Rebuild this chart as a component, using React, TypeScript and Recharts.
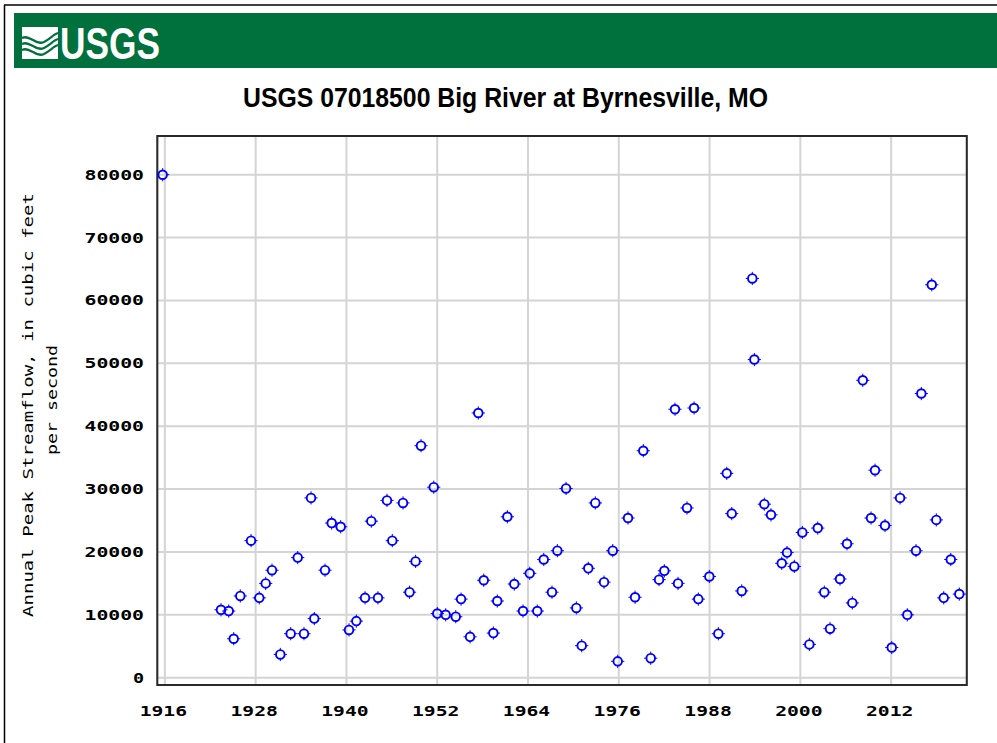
import React from 'react';
import { ScatterChart, Scatter, XAxis, YAxis, CartesianGrid, ReferenceArea } from 'recharts';

const peakYears = [
  1915.71, 1923.42, 1924.44, 1925.10, 1925.97, 1927.39, 1928.48, 1929.33, 1930.16, 1931.26,
  1932.63, 1933.56, 1934.39, 1935.32, 1935.75, 1937.17, 1938.05, 1939.24, 1940.34, 1941.31,
  1942.46, 1943.29, 1944.17, 1945.36, 1946.06, 1947.48, 1948.34, 1949.14, 1949.86, 1951.54,
  1952.01, 1953.12, 1954.45, 1955.15, 1956.34, 1957.43, 1958.15, 1959.42, 1959.94, 1961.27,
  1962.19, 1963.34, 1964.23, 1965.23, 1966.08, 1967.17, 1967.88, 1969.03, 1970.39, 1971.10,
  1971.97, 1972.90, 1974.05, 1975.20, 1975.86, 1977.22, 1978.15, 1979.24, 1980.22, 1981.32,
  1982.02, 1983.43, 1983.83, 1985.02, 1985.95, 1986.51, 1987.97, 1989.16, 1990.27, 1990.93,
  1992.25, 1993.65, 1993.92, 1995.24, 1996.12, 1997.54, 1998.24, 1999.20, 2000.26, 2001.19,
  2002.30, 2003.17, 2003.92, 2005.24, 2006.17, 2006.87, 2008.25, 2009.34, 2009.87, 2011.19,
  2012.08, 2013.18, 2014.14, 2015.29, 2015.99, 2017.37, 2017.97, 2018.95, 2019.88, 2021.01,
];

const peakFlows = [
  80000, 10800, 10600, 6200, 13000, 21800, 12700, 15000, 17100, 3700,
  7000, 19100, 7000, 28600, 9400, 17100, 24600, 24000, 7600, 9000,
  12700, 24900, 12700, 28200, 21800, 27800, 13600, 18500, 36900, 30300,
  10200, 10000, 9700, 12500, 6500, 42100, 15500, 7100, 12200, 25600,
  14900, 10600, 16600, 10600, 18800, 13600, 20200, 30100, 11100, 5100,
  17400, 27800, 15200, 20200, 2600, 25400, 12800, 36100, 3100, 15600,
  17000, 42700, 15000, 27000, 42900, 12500, 16100, 7000, 32500, 26100,
  13800, 63500, 50600, 27600, 25900, 18200, 19900, 17700, 23100, 5300,
  23800, 13600, 7800, 15700, 21300, 11900, 47300, 25400, 33000, 24200,
  4800, 28600, 10000, 20200, 45200, 62500, 25100, 12700, 18800, 13300,
];

const xTicks = [1916, 1928, 1940, 1952, 1964, 1976, 1988, 2000, 2012];
const yTicks = [0, 10000, 20000, 30000, 40000, 50000, 60000, 70000, 80000];
const xDomain = [1915, 2022];
const yDomain = [-1160, 86160];

const titleText = 'USGS 07018500 Big River at Byrnesville, MO';
const yLabel1 = 'Annual Peak Streamflow, in cubic feet';
const yLabel2 = 'per second';

const data = peakYears.map((x, i) => ({ x, y: peakFlows[i] }));

const MONO = '"DejaVu Sans Mono", "Liberation Mono", monospace';
const NARROW = '"Liberation Sans Narrow", "Liberation Sans", Arial, sans-serif';
const CHAR_W = 12.1;

const XTick = (props: any) => {
  const { x, payload } = props;
  const s = String(payload.value);
  return (
    <text x={x - 1.5} y={716} textAnchor="middle" fontFamily={MONO} fontWeight="bold" fontSize={14} fill="#000"
      textLength={s.length * CHAR_W - 1} lengthAdjust="spacingAndGlyphs">
      {s}
    </text>
  );
};

const YTick = (props: any) => {
  const { y, payload } = props;
  const s = String(payload.value);
  return (
    <text x={144} y={y + 5} textAnchor="end" fontFamily={MONO} fontWeight="bold" fontSize={14} fill="#000"
      textLength={s.length * CHAR_W - 1} lengthAdjust="spacingAndGlyphs">
      {s}
    </text>
  );
};

const Marker = (props: any) => {
  const { cx, cy } = props;
  if (cx == null || cy == null) return null;
  const r = 4.3;
  const t = 6.6;
  return (
    <g>
      <circle cx={cx} cy={cy} r={r} fill="none" stroke="#0000ff" strokeWidth={1.9} />
      <path
        d={`M${cx - t},${cy}L${cx - r},${cy}M${cx + r},${cy}L${cx + t},${cy}M${cx},${cy - t}L${cx},${cy - r}M${cx},${cy + r}L${cx},${cy + t}`}
        stroke="#0000ff"
        strokeWidth={1}
      />
    </g>
  );
};

export default function App() {
  return (
    <div style={{ position: 'absolute', left: 0, top: 0, width: 997, height: 743, background: '#fff', overflow: 'hidden' }}>
      <ScatterChart width={997} height={743} margin={{ top: 136, right: 30.2, bottom: 28, left: 0 }}>
        <CartesianGrid stroke="#d4d4d4" strokeWidth={2} />
        <XAxis
          type="number"
          dataKey="x"
          domain={xDomain}
          ticks={xTicks}
          allowDataOverflow
          axisLine={false}
          tickLine={false}
          tick={<XTick />}
          height={30}
          interval={0}
        />
        <YAxis
          type="number"
          dataKey="y"
          domain={yDomain}
          ticks={yTicks}
          allowDataOverflow
          axisLine={false}
          tickLine={false}
          tick={<YTick />}
          width={157.3}
          interval={0}
        />
        <ReferenceArea
          x1={xDomain[0]}
          x2={xDomain[1]}
          y1={yDomain[0]}
          y2={yDomain[1]}
          fill="none"
          fillOpacity={0}
          stroke="#2a2a2a"
          strokeWidth={2}
          ifOverflow="visible"
        />
        <Scatter data={data} shape={<Marker />} isAnimationActive={false} />
      </ScatterChart>
      <svg width={997} height={743} style={{ position: 'absolute', left: 0, top: 0, pointerEvents: 'none' }}>
        <line x1={4} y1={5} x2={997} y2={5} stroke="#000" strokeWidth={1.5} />
        <line x1={4.5} y1={5} x2={4.5} y2={743} stroke="#000" strokeWidth={1.5} />
        <rect x={14} y={13} width={983} height={55} fill="#00703C" />
        <rect x={22} y={27} width={36} height={32} fill="#fff" />
        <path d="M22,38 C30,34 36,46 44,42 C50,39 54,34 58,33" stroke="#00703C" strokeWidth={2.2} fill="none" />
        <path d="M22,44 C30,40 36,52 44,48 C50,45 54,40 58,39" stroke="#00703C" strokeWidth={2.2} fill="none" />
        <path d="M22,50 C30,46 36,58 44,54 C50,51 54,46 58,45" stroke="#00703C" strokeWidth={2.2} fill="none" />
        <text x={60} y={59} fontFamily={NARROW} fontWeight="bold" fontSize={44} fill="#fff" textLength={100} lengthAdjust="spacingAndGlyphs">
          USGS
        </text>
        <text x={505.5} y={107.3} textAnchor="middle" fontFamily={NARROW} fontWeight="bold" fontSize={27} fill="#000" textLength={525} lengthAdjust="spacingAndGlyphs">
          {titleText}
        </text>
        <text
          transform="translate(33,405) rotate(-90)"
          textAnchor="middle"
          fontFamily={MONO}
          fontSize={14}
          fill="#000"
          textLength={424}
          lengthAdjust="spacingAndGlyphs"
        >
          {yLabel1}
        </text>
        <text
          transform="translate(57,400) rotate(-90)"
          textAnchor="middle"
          fontFamily={MONO}
          fontSize={14}
          fill="#000"
          textLength={110}
          lengthAdjust="spacingAndGlyphs"
        >
          {yLabel2}
        </text>
      </svg>
    </div>
  );
}
